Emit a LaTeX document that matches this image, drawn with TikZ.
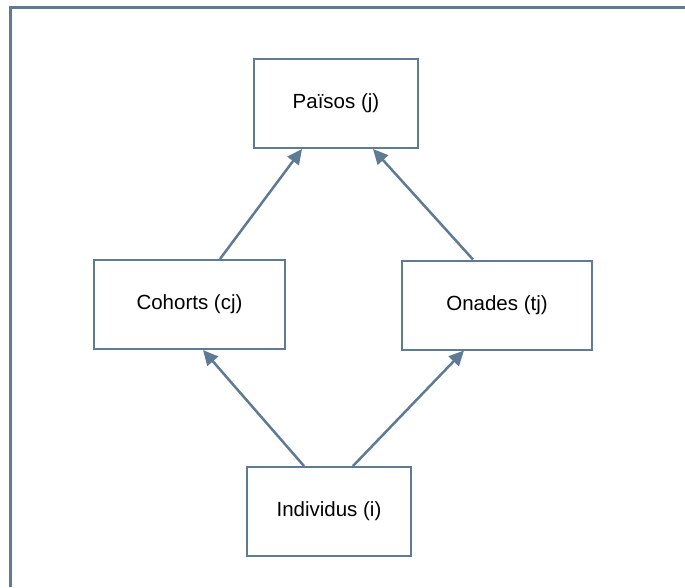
\documentclass[tikz,border=0pt]{standalone}
\usepackage{fontspec}
\setmainfont{Liberation Sans}
\usetikzlibrary{arrows.meta}
\definecolor{edgeblue}{HTML}{5F7A93}
\tikzset{
  box/.style={draw=edgeblue,line width=2pt,fill=white,inner sep=0pt,
    minimum height=89pt,font=\fontsize{20.5}{24}\selectfont},
  link/.style={draw=edgeblue,line width=2.5pt,-{Triangle[length=15pt,width=14pt]}}
}
\begin{document}
\begin{tikzpicture}[x=1pt,y=-1pt]
            \useasboundingbox (0,0) rectangle (685,587);
            \draw[edgeblue,line width=3pt] (10,587) -- (10,7) -- (685,7);
            \node[box,minimum width=164pt] (pais) at (336,103.5) {Països (j)};
            \node[box,minimum width=191pt] (coh) at (189.5,304.5) {Cohorts (cj)};
            \node[box,minimum width=190pt] (ona) at (497,305) {Onades (tj)};
            \node[box,minimum width=164pt] (ind) at (329,511.5) {Individus (i)};
            \draw[link] ([xshift=-25pt]ind.north) -- ([xshift=13.5pt]coh.south);
            \draw[link] ([xshift=24pt]ind.north) -- ([xshift=-33pt]ona.south);
            \draw[link] ([xshift=30.5pt]coh.north) -- ([xshift=-34pt]pais.south);
            \draw[link] ([xshift=-24pt]ona.north) -- ([xshift=37pt]pais.south);
\end{tikzpicture}
\end{document}
